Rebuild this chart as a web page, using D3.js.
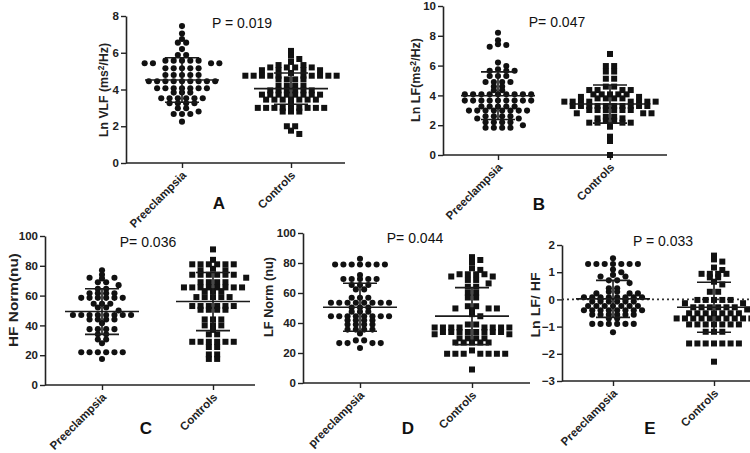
<!DOCTYPE html>
<html>
<head>
<meta charset="utf-8">
<script src="https://cdn.jsdelivr.net/npm/d3@7"></script>
<style>
  html, body { margin: 0; padding: 0; background: #fff; }
  svg { display: block; }
</style>
</head>
<body>
<svg id="chart" width="750" height="453"></svg>
<script>
// ---------------- DATA ----------------
const categoriesABCE = ["Preeclampsia", "Controls"];
const categoriesD = ["preeclampsia", "Controls"];

const pValues = ["P = 0.019", "P= 0.047", "P= 0.036", "P= 0.044", "P = 0.033"];
const panelLetters = ["A", "B", "C", "D", "E"];
const yTitles = ["Ln VLF (ms|2|/Hz)", "Ln LF(ms|2|/Hz)", "HF Norm(nu)", "LF Norm (nu)", "Ln LF/ HF"];

const yTicksA = [0, 2, 4, 6, 8];
const yTicksB = [0, 2, 4, 6, 8, 10];
const yTicksC = [0, 20, 40, 60, 80, 100];
const yTicksD = [0, 20, 40, 60, 80, 100];
const yTicksE = [-3, -2, -1, 0, 1, 2];

// Panel A: Ln VLF
const vlfPre = [7.45, 7.05, 6.75, 6.55, 6.55, 6.2, 5.88, 5.88,
  5.57, 5.57, 5.57, 5.57, 5.57, 5.43, 5.43, 5.43, 5.43,
  5.15, 5.15, 5.15, 5.15, 5.15, 4.79, 4.79, 4.79, 4.79, 4.79,
  4.45, 4.45, 4.45, 4.45, 4.45, 4.45, 4.45, 4.45, 4.45,
  4.07, 4.07, 4.07, 4.07, 4.07, 4.07, 4.07, 3.83, 3.83, 3.83,
  3.52, 3.52, 3.52, 3.52, 3.52, 3.52, 3.25, 3.25, 3.25, 3.25,
  2.98, 2.98, 2.8, 2.67, 2.67, 2.67, 2.25];
const vlfCtrl = [6.1, 5.84, 5.66, 5.5, 5.33, 5.33, 5.2, 5.2, 5.2, 5.2,
  5.05, 5.05, 5.05, 5.05, 4.9,
  4.75, 4.75, 4.75, 4.75, 4.75, 4.75, 4.75, 4.75, 4.75, 4.75,
  4.55, 4.55, 4.55, 4.55, 4.2, 4.2, 4.2, 4.2,
  3.95, 3.95, 3.95, 3.95, 3.95, 3.95,
  3.72, 3.72, 3.72, 3.72, 3.72, 3.72, 3.72, 3.72,
  3.45, 3.45, 3.45, 3.45, 3.45, 3.45, 3.45, 3.2,
  3.0, 3.0, 3.0, 3.0, 3.0, 3.0, 3.0, 3.0, 3.0,
  2.8, 2.8, 2.8, 2.0, 2.0, 1.76, 1.58];

// Panel B: Ln LF
const lfPre = [8.2, 7.7, 7.43, 7.38, 7.27, 6.2, 5.97, 5.75,
  5.65, 5.65, 5.65, 5.3, 5.3, 5.3, 4.9, 4.9, 4.9, 4.9, 4.6, 4.6, 4.35, 4.35,
  4.07, 4.07, 4.07, 4.07, 4.07, 4.07, 4.07, 4.07, 4.07,
  3.65, 3.65, 3.65, 3.65, 3.65, 3.65, 3.65, 3.65, 3.65,
  3.25, 3.25, 3.25, 3.25, 3.25,
  2.98, 2.98, 2.98, 2.98, 2.98, 2.98, 2.98, 2.98,
  2.6, 2.6, 2.6, 2.6, 2.45, 2.45, 2.2, 2.2, 2.2, 2.2, 2.0,
  1.83, 1.83, 1.83, 1.83];
const lfCtrl = [6.78, 5.97, 5.97, 5.6, 5.6, 5.12, 5.12, 4.59, 4.59,
  4.36, 4.36, 4.36, 4.36, 4.07, 4.07, 4.07, 4.07, 4.07, 3.9, 3.9,
  3.8, 3.8, 3.8, 3.8, 3.58, 3.58, 3.58, 3.58, 3.58, 3.58, 3.58, 3.58,
  3.29, 3.29, 3.29, 3.29, 3.29, 3.29, 3.29, 3.29, 3.29, 3.29,
  3.02, 3.02, 3.02, 3.02, 3.02, 3.02, 2.8, 2.8, 2.8, 2.57, 2.57,
  2.46, 2.46, 2.3, 2.3, 2.17, 2.17, 2.17, 2.17, 1.9, 1.23, 0.94, 0.0];

// Panel C: HF Norm (nu)
const hfPre = [77, 74, 72, 72, 71.5, 69, 69, 67, 64.5, 64.5,
  61.5, 61.5, 61.5, 61.5, 58.5, 58.5, 58.5, 58.5, 58.5, 58.5,
  54.5, 54.5, 54.5, 52, 52, 50,
  47, 47, 47, 47, 47, 47, 47, 47, 44, 44, 44, 44, 41.5,
  37.5, 37.5, 37.5, 37.5, 34, 34, 30.5, 30.5, 28,
  22, 22, 22, 22, 22, 22, 17.5];
const hfCtrl = [91, 84, 81, 81, 81, 81, 81, 81, 78, 77, 77,
  74, 74, 74, 74, 74, 74, 72, 69, 69, 69, 69,
  65.5, 65.5, 65.5, 65.5, 65.5, 65.5, 65.5, 65.5, 63, 63, 63,
  59, 59, 59, 59, 59, 53, 53, 53, 53, 53, 53, 50.5, 50.5, 50.5, 50.5,
  44, 44, 44, 40, 40, 40, 37, 34, 34,
  29, 29, 29, 29, 29, 29, 25.5, 25.5, 20.5, 20.5, 17.5, 17.5];

// Panel D: LF Norm (nu)
const lfnPre = [82.8, 79, 79, 79, 79, 79, 79, 79, 72,
  69.3, 69.3, 69.3, 69.3, 69.3, 65.3, 65.3, 65.3, 62.4, 62.4,
  56.8, 56.8, 56.8, 53.5, 53.5, 53.5, 53.5, 53.5, 53.5, 53.5, 53.5,
  50.3, 50.3, 50.3, 47.5, 47.5, 47.5,
  44.5, 44.5, 44.5, 44.5, 44.5, 44.5, 44.5, 44.5,
  41.8, 41.8, 41.8, 41.8, 39, 39, 39, 39,
  35.6, 35.6, 35.6, 35.6, 33, 28.4, 28.4, 26.6, 26.6, 26.6, 26.6, 23.3];
const lfnCtrl = [83.9, 82, 80.5, 76.5, 75.4, 72.5, 72.5, 72.5, 72.5, 71, 71,
  68.7, 68.7, 66.4, 64.2, 64.2, 60.2, 60.2, 57, 57, 51.2, 51.2,
  49.7, 49.7, 49.7, 48.5, 45.9, 44.5, 39, 39,
  37, 37, 37, 37, 37, 37, 37, 37, 34, 34, 34, 34, 34, 34, 34, 34,
  32.5, 32.5, 29.8, 29.8, 29.8, 29.8, 27, 27, 27, 27, 27, 21.7,
  19.5, 19.5, 19.5, 19.5, 19.5, 19.5, 19.5, 9];

// Panel E: Ln LF/HF
const ratioPre = [1.51, 1.3, 1.3, 1.3, 1.3, 1.3, 1.3, 1.3, 1.1, 1.0, 0.9, 0.84, 0.84,
  0.7, 0.7, 0.6, 0.41, 0.41, 0.28, 0.28, 0.22, 0.22, 0.22,
  0.08, 0.08, 0.08, 0.08, 0.08, 0.08, 0.08, 0.08,
  -0.08, -0.08, -0.08, -0.08, -0.08, -0.08,
  -0.24, -0.24, -0.24, -0.24, -0.24, -0.24, -0.24,
  -0.4, -0.4, -0.4, -0.4, -0.4, -0.4, -0.4, -0.4,
  -0.56, -0.56, -0.56, -0.56, -0.56, -0.56, -0.7, -0.7,
  -0.9, -0.9, -0.9, -0.9, -0.9, -0.9, -1.21];
const ratioCtrl = [1.61, 1.47, 1.39, 1.17, 1.08, 0.94, 0.94, 0.94, 0.94, 0.81, 0.81,
  0.65, 0.55, 0.28, 0.28, -0.02, -0.02, -0.02, -0.02, -0.02, -0.14, -0.14,
  -0.29, -0.29, -0.29, -0.29, -0.29, -0.29, -0.37,
  -0.51, -0.51, -0.51, -0.51, -0.51, -0.51, -0.51,
  -0.7, -0.7, -0.7, -0.7, -0.7, -0.7, -0.7, -0.7, -0.7, -0.7,
  -0.92, -0.92, -0.92, -0.92, -0.92, -0.92, -0.92,
  -1.19, -1.19, -1.19, -1.62, -1.62, -1.62, -1.62, -1.62, -1.62, -1.62, -2.29];

// Mean and SD per group [preeclampsia, controls]
const meansA = [4.52, 4.05], sdsA = [1.21, 0.85];
const meansB = [3.98, 3.42], sdsB = [1.6, 1.28];
const meansC = [49.3, 56.0], sdsC = [15.3, 19.5];
const meansD = [50.5, 44.6], sdsD = [16.0, 19.0];
const meansE = [0.02, -0.29], sdsE = [0.68, 0.92];

// ---------------- LAYOUT ----------------
const panels = [
  { cats: categoriesABCE, groups: [vlfPre, vlfCtrl], means: meansA, sds: sdsA, ticks: yTicksA,
    domain: [0, 8], x0: 126, x1: 345, yb: 163, yt: 16, c: [182, 291],
    p: [242, 28], letter: [219, 209], title: [108, 90], titleLen: 94 },
  { cats: categoriesABCE, groups: [lfPre, lfCtrl], means: meansB, sds: sdsB, ticks: yTicksB,
    domain: [0, 10], x0: 443, x1: 667, yb: 155, yt: 6, c: [498, 610],
    p: [557, 27], letter: [539, 210], title: [420, 80], titleLen: 84 },
  { cats: categoriesABCE, groups: [hfPre, hfCtrl], means: meansC, sds: sdsC, ticks: yTicksC,
    domain: [0, 100], x0: 45, x1: 255, yb: 385, yt: 236, c: [102, 213],
    p: [148, 247], letter: [146, 434], title: [18, 300], titleLen: 94 },
  { cats: categoriesD, groups: [lfnPre, lfnCtrl], means: meansD, sds: sdsD, ticks: yTicksD,
    domain: [0, 100], x0: 303, x1: 530, yb: 383, yt: 233, c: [360, 472],
    p: [415, 243], letter: [408, 434], title: [273, 297], titleLen: 80 },
  { cats: categoriesABCE, groups: [ratioPre, ratioCtrl], means: meansE, sds: sdsE, ticks: yTicksE,
    domain: [-3, 2], x0: 562, x1: 752, yb: 381, yt: 245, c: [613, 714],
    p: [663, 246], letter: [650, 434], title: [540, 305], titleLen: 65, zeroLine: true }
];

const svg = d3.select("#chart");
svg.append("rect").attr("width", 750).attr("height", 453).attr("fill", "#fff");

const FONT = "'Liberation Sans', Arial, Helvetica, sans-serif";
const STEP = 8.3;      // horizontal spacing of points in a row
const R = 3.05;        // circle radius
const SQ = 6.0;        // square side

function swarm(values, y) {
  const sorted = values.slice().sort((a, b) => b - a);
  const rows = [];
  sorted.forEach(v => {
    const last = rows[rows.length - 1];
    if (last && last.v === v) last.n++; else rows.push({ v, n: 1 });
  });
  const placed = [];
  rows.forEach(row => {
    const py = y(row.v);
    const slots = [];
    if (row.n % 2 === 1) {
      slots.push(0);
      for (let k = 1; k < 30; k++) { slots.push(k * STEP, -k * STEP); }
    } else {
      for (let k = 0; k < 30; k++) { slots.push((k + 0.5) * STEP, -(k + 0.5) * STEP); }
    }
    let count = 0;
    for (const s of slots) {
      if (count >= row.n) break;
      const hit = placed.some(p => Math.abs(p.dx - s) < 0.9 * STEP && Math.abs(p.py - py) < 3.5);
      if (!hit) { placed.push({ dx: s, py, v: row.v }); count++; }
    }
  });
  return placed;
}

panels.forEach((P, pi) => {
  const g = svg.append("g");
  const y = d3.scaleLinear().domain(P.domain).range([P.yb, P.yt]);
  const x = d3.scalePoint().domain(P.cats).range(P.c);

  // y axis
  const ya = g.append("g").attr("transform", `translate(${P.x0},0)`)
    .call(d3.axisLeft(y).tickValues(P.ticks).tickSize(5).tickSizeOuter(0).tickPadding(2).tickFormat(d3.format("d")));
  ya.select(".domain").attr("stroke", "#222").attr("stroke-width", 1.6);
  ya.selectAll(".tick line").attr("stroke", "#222").attr("stroke-width", 1.4);
  ya.selectAll(".tick text").attr("font-family", FONT).attr("font-weight", "bold")
    .attr("font-size", 11.5).attr("fill", "#222");

  // x axis
  g.append("line").attr("x1", P.x0).attr("x2", P.x1).attr("y1", P.yb).attr("y2", P.yb)
    .attr("stroke", "#222").attr("stroke-width", 1.6);
  const xa = g.append("g").attr("transform", `translate(0,${P.yb})`)
    .call(d3.axisBottom(x).tickSize(5).tickSizeOuter(0).tickFormat(""));
  xa.select(".domain").remove();
  xa.selectAll(".tick line").attr("stroke", "#222").attr("stroke-width", 1.4);

  // category labels
  P.cats.forEach(cat => {
    const cx = x(cat);
    g.append("text").attr("transform", `translate(${cx + 5},${P.yb + 13}) rotate(-45)`)
      .attr("text-anchor", "end").attr("font-family", FONT).attr("font-weight", "bold")
      .attr("font-size", 11.5).attr("fill", "#222").text(cat);
  });

  // zero reference line
  if (P.zeroLine) {
    g.append("line").attr("x1", P.x0).attr("x2", P.x1).attr("y1", y(0)).attr("y2", y(0))
      .attr("stroke", "#333").attr("stroke-width", 1.6).attr("stroke-dasharray", "2,3");
  }

  // points
  P.groups.forEach((vals, gi) => {
    const cx = x(P.cats[gi]);
    const pts = swarm(vals, y);
    if (gi === 0) {
      g.selectAll(null).data(pts).enter().append("circle")
        .attr("cx", d => cx + d.dx).attr("cy", d => d.py).attr("r", R).attr("fill", "#111");
    } else {
      g.selectAll(null).data(pts).enter().append("rect")
        .attr("x", d => cx + d.dx - SQ / 2).attr("y", d => d.py - SQ / 2)
        .attr("width", SQ).attr("height", SQ).attr("fill", "#111");
    }
    // mean and SD
    const m = P.means[gi], sd = P.sds[gi];
    const eg = g.append("g").attr("stroke", "#1a1a1a").attr("stroke-width", 1.6);
    eg.append("line").attr("x1", cx - 37).attr("x2", cx + 37).attr("y1", y(m)).attr("y2", y(m));
    eg.append("line").attr("x1", cx).attr("x2", cx).attr("y1", y(m + sd)).attr("y2", y(m - sd));
    eg.append("line").attr("x1", cx - 17).attr("x2", cx + 17).attr("y1", y(m + sd)).attr("y2", y(m + sd));
    eg.append("line").attr("x1", cx - 17).attr("x2", cx + 17).attr("y1", y(m - sd)).attr("y2", y(m - sd));
  });

  // y title (with optional superscript marked by |2|)
  const t = g.append("text").attr("transform", `translate(${P.title[0]},${P.title[1]}) rotate(-90)`)
    .attr("text-anchor", "middle").attr("font-family", FONT).attr("font-weight", "bold")
    .attr("font-size", 12.5).attr("fill", "#222")
    .attr("textLength", P.titleLen).attr("lengthAdjust", "spacingAndGlyphs");
  const parts = yTitles[pi].split("|");
  if (parts.length === 3) {
    t.append("tspan").text(parts[0]);
    t.append("tspan").attr("dy", -4).attr("font-size", 8.5).text(parts[1]);
    t.append("tspan").attr("dy", 4).text(parts[2]);
  } else {
    t.text(parts[0]);
  }

  // P value
  g.append("text").attr("x", P.p[0]).attr("y", P.p[1]).attr("text-anchor", "middle")
    .attr("font-family", FONT).attr("font-size", 14).attr("fill", "#111").text(pValues[pi]);

  // panel letter
  g.append("text").attr("x", P.letter[0]).attr("y", P.letter[1]).attr("text-anchor", "middle")
    .attr("font-family", FONT).attr("font-weight", "bold").attr("font-size", 17)
    .attr("fill", "#111").text(panelLetters[pi]);
});
</script>
</body>
</html>
